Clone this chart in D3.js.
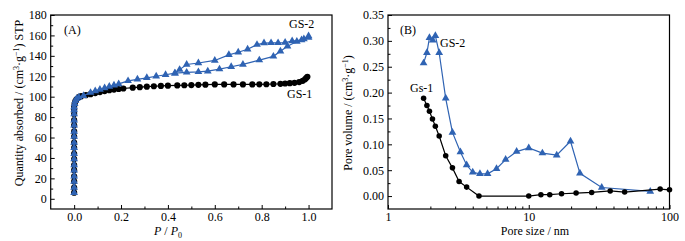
<!DOCTYPE html>
<html>
<head>
<meta charset="utf-8">
<script src="https://cdn.jsdelivr.net/npm/d3@7"></script>
<style>
  body { margin: 0; background: #fff; }
  svg { font-family: "Liberation Serif", "Times New Roman", serif; }
</style>
</head>
<body>
<svg id="chart" width="685" height="241"></svg>
<script>
const width = 685;
const height = 241;
const blue = "#2f63b3";

// (A) isotherms: relative pressure / quantity absorbed
const vert = [6, 11, 17, 22, 28, 33, 39, 44, 50, 55, 61, 66, 72, 77, 83, 87, 90];
const gs1P = vert.map(() => 0).concat([0.002, 0.005, 0.01, 0.02, 0.03, 0.05, 0.07, 0.09, 0.11, 0.13, 0.15, 0.17, 0.19, 0.21, 0.25, 0.28, 0.31, 0.34, 0.37, 0.40, 0.44, 0.47, 0.50, 0.53, 0.56, 0.60, 0.64, 0.68, 0.72, 0.76, 0.79, 0.82, 0.85, 0.88, 0.90, 0.92, 0.94, 0.96, 0.975, 0.985, 0.99, 0.995]);
const gs1Q = vert.concat([93, 95.5, 97.5, 99.5, 100.5, 101.5, 102.5, 103.5, 104.5, 105.5, 106.3, 107, 107.5, 108, 108.8, 109.3, 109.8, 110.2, 110.5, 110.8, 111, 111.2, 111.4, 111.6, 111.8, 112, 112, 112, 112, 112, 112.1, 112.2, 112.4, 112.6, 112.9, 113.2, 113.6, 114.3, 115.5, 117, 118.3, 119.5]);

const gs2P = vert.map(() => 0).concat([0.002, 0.005, 0.01, 0.02, 0.04, 0.07, 0.09, 0.11, 0.13, 0.15, 0.17, 0.19, 0.23, 0.27, 0.31, 0.35, 0.39, 0.43, 0.48, 0.53, 0.57, 0.62, 0.67, 0.72, 0.79, 0.85, 0.88, 0.91, 0.95, 0.98, 1.0,
  1.0, 0.97, 0.93, 0.90, 0.87, 0.84, 0.81, 0.78, 0.74, 0.70, 0.66, 0.60, 0.53, 0.48, 0.45, 0.43]);
const gs2Q = vert.concat([93, 96, 98, 99.5, 101, 104, 105.5, 107, 108.5, 110, 111.2, 112.5, 115.5, 117, 118.5, 120, 121.5, 123, 123.8, 124.3, 125, 127, 129.3, 131.6, 135.8, 139.5, 144.5, 149.5, 154, 156.5, 158,
  159.5, 155.5, 154.5, 153, 152.7, 152.7, 152.5, 151, 146.5, 143.5, 141, 135.5, 133, 131.5, 126.5, 123]);

// (B) pore size distribution
const bGs1Size = [1.79, 1.89, 1.97, 2.07, 2.17, 2.31, 2.57, 2.87, 3.2, 3.62, 4.43, 10, 12.2, 14.1, 17.1, 21.7, 28, 37.9, 48, 85.8, 100];
const bGs1Vol = [0.189, 0.175, 0.164, 0.149, 0.135, 0.116, 0.078, 0.0545, 0.028, 0.0173, 0.0, 0.0, 0.0026, 0.0026, 0.0045, 0.0058, 0.007, 0.010, 0.0077, 0.0135, 0.012];
const bGs2Size = [1.79, 1.89, 1.97, 2.08, 2.17, 2.31, 2.57, 2.87, 3.27, 3.62, 4.0, 4.5, 5.1, 5.9, 6.85, 8.2, 10, 12.5, 15.8, 19.8, 23.1, 33, 73];
const bGs2Vol = [0.257, 0.277, 0.306, 0.301, 0.310, 0.277, 0.189, 0.123, 0.085, 0.060, 0.046, 0.043, 0.043, 0.053, 0.0705, 0.086, 0.093, 0.083, 0.079, 0.106, 0.044, 0.0166, 0.009];

const svg = d3.select("#chart");
const plotTop = 15, plotBottom = 209;

// ---------- panel A ----------
const xA = d3.scaleLinear().domain([-0.1, 1.1]).range([50.7, 332]);
const yA = d3.scaleLinear().domain([-10, 180]).range([plotBottom, plotTop]);

// ---------- panel B ----------
const xB = d3.scaleLog().domain([1, 100]).range([388, 669.5]);
const yB = d3.scaleLinear().domain([-0.025, 0.35]).range([plotBottom, plotTop]);

function styleAxis(g) {
  g.select(".domain").remove();
  g.selectAll("line").attr("stroke", "#000").attr("stroke-width", 1);
  g.selectAll("text").attr("fill", "#000").attr("font-size", "12px")
    .attr("font-family", "'Liberation Serif', 'Times New Roman', serif");
}

// A axes
svg.append("g").attr("transform", `translate(0,${plotBottom})`)
  .call(d3.axisBottom(xA).tickValues(d3.range(0, 1.01, 0.2)).tickFormat(d3.format(".1f"))
    .tickSizeInner(-4).tickSizeOuter(0).tickPadding(3))
  .call(styleAxis);
svg.append("g").attr("transform", `translate(0,${plotBottom})`)
  .call(d3.axisBottom(xA).tickValues(d3.range(0.1, 1.01, 0.2)).tickFormat("")
    .tickSizeInner(-2.5).tickSizeOuter(0))
  .call(styleAxis);
svg.append("g").attr("transform", `translate(${xA.range()[0]},0)`)
  .call(d3.axisLeft(yA).tickValues(d3.range(0, 181, 20)).tickFormat(d3.format("d"))
    .tickSizeInner(-4).tickSizeOuter(0).tickPadding(4))
  .call(styleAxis);
svg.append("g").attr("transform", `translate(${xA.range()[0]},0)`)
  .call(d3.axisLeft(yA).tickValues(d3.range(10, 180, 20)).tickFormat("")
    .tickSizeInner(-2.5).tickSizeOuter(0))
  .call(styleAxis);

// B axes
svg.append("g").attr("transform", `translate(0,${plotBottom})`)
  .call(d3.axisBottom(xB).tickValues([1, 10, 100]).tickFormat(d3.format("d"))
    .tickSizeInner(-4).tickSizeOuter(0).tickPadding(3))
  .call(styleAxis);
const minorLog = [2, 3, 4, 5, 6, 7, 8, 9].flatMap((d) => [d, d * 10]);
svg.append("g").attr("transform", `translate(0,${plotBottom})`)
  .call(d3.axisBottom(xB).tickValues(minorLog).tickFormat("")
    .tickSizeInner(-2.5).tickSizeOuter(0))
  .call(styleAxis);
svg.append("g").attr("transform", `translate(${xB.range()[0]},0)`)
  .call(d3.axisLeft(yB).tickValues(d3.range(0, 0.351, 0.05)).tickFormat(d3.format(".2f"))
    .tickSizeInner(-4).tickSizeOuter(0).tickPadding(4))
  .call(styleAxis);
svg.append("g").attr("transform", `translate(${xB.range()[0]},0)`)
  .call(d3.axisLeft(yB).tickValues(d3.range(0.025, 0.35, 0.05)).tickFormat("")
    .tickSizeInner(-2.5).tickSizeOuter(0))
  .call(styleAxis);

// frames
[[xA, yA], [xB, yB]].forEach(([x, y]) => {
  svg.append("rect")
    .attr("x", x.range()[0]).attr("y", plotTop)
    .attr("width", x.range()[1] - x.range()[0]).attr("height", plotBottom - plotTop)
    .attr("fill", "none").attr("stroke", "#000").attr("stroke-width", 1.2);
});

// series drawing helper
function drawSeries(xs, ys, sx, sy, color, shape, size) {
  const pts = xs.map((d, i) => [sx(d), sy(ys[i])]);
  svg.append("path").attr("d", d3.line()(pts))
    .attr("fill", "none").attr("stroke", color).attr("stroke-width", 1.2);
  svg.append("g").selectAll("path").data(pts).enter().append("path")
    .attr("transform", (d) => `translate(${d[0]},${d[1]})`)
    .attr("d", d3.symbol().type(shape).size(size))
    .attr("fill", color);
}

drawSeries(gs1P, gs1Q, xA, yA, "#000", d3.symbolCircle, 30);
drawSeries(gs2P, gs2Q, xA, yA, blue, d3.symbolTriangle, 26);

drawSeries(bGs2Size, bGs2Vol, xB, yB, blue, d3.symbolTriangle, 26);
drawSeries(bGs1Size, bGs1Vol, xB, yB, "#000", d3.symbolCircle, 24);

// annotations
function label(x, y, t) {
  svg.append("text").attr("x", x).attr("y", y).attr("font-size", "12px").text(t);
}
label(64, 34, "(A)");
label(289, 28, "GS-2");
label(287, 98, "GS-1");
label(400, 34, "(B)");
label(440, 47, "GS-2");
label(410, 92, "Gs-1");

// axis titles
const tA = svg.append("text").attr("transform", "translate(23,103) rotate(-90)")
  .attr("text-anchor", "middle").attr("font-size", "12px");
tA.append("tspan").text("Quantity absorbed / (cm");
tA.append("tspan").attr("dy", -4).attr("font-size", "8px").text("3");
tA.append("tspan").attr("dy", 4).text("·g");
tA.append("tspan").attr("dy", -4).attr("font-size", "8px").text("−1");
tA.append("tspan").attr("dy", 4).text(") STP");

const tB = svg.append("text").attr("transform", "translate(352,113) rotate(-90)")
  .attr("text-anchor", "middle").attr("font-size", "12px");
tB.append("tspan").text("Pore volume / (cm");
tB.append("tspan").attr("dy", -4).attr("font-size", "8px").text("3");
tB.append("tspan").attr("dy", 4).text("·g");
tB.append("tspan").attr("dy", -4).attr("font-size", "8px").text("−1");
tB.append("tspan").attr("dy", 4).text(")");

const xt = svg.append("text").attr("x", 168).attr("y", 235)
  .attr("text-anchor", "middle").attr("font-size", "12px");
xt.append("tspan").attr("font-style", "italic").text("P");
xt.append("tspan").text(" / ");
xt.append("tspan").attr("font-style", "italic").text("P");
xt.append("tspan").attr("dy", 3).attr("font-size", "8px").text("0");

svg.append("text").attr("x", 535).attr("y", 235)
  .attr("text-anchor", "middle").attr("font-size", "12px").text("Pore size / nm");
</script>
</body>
</html>
